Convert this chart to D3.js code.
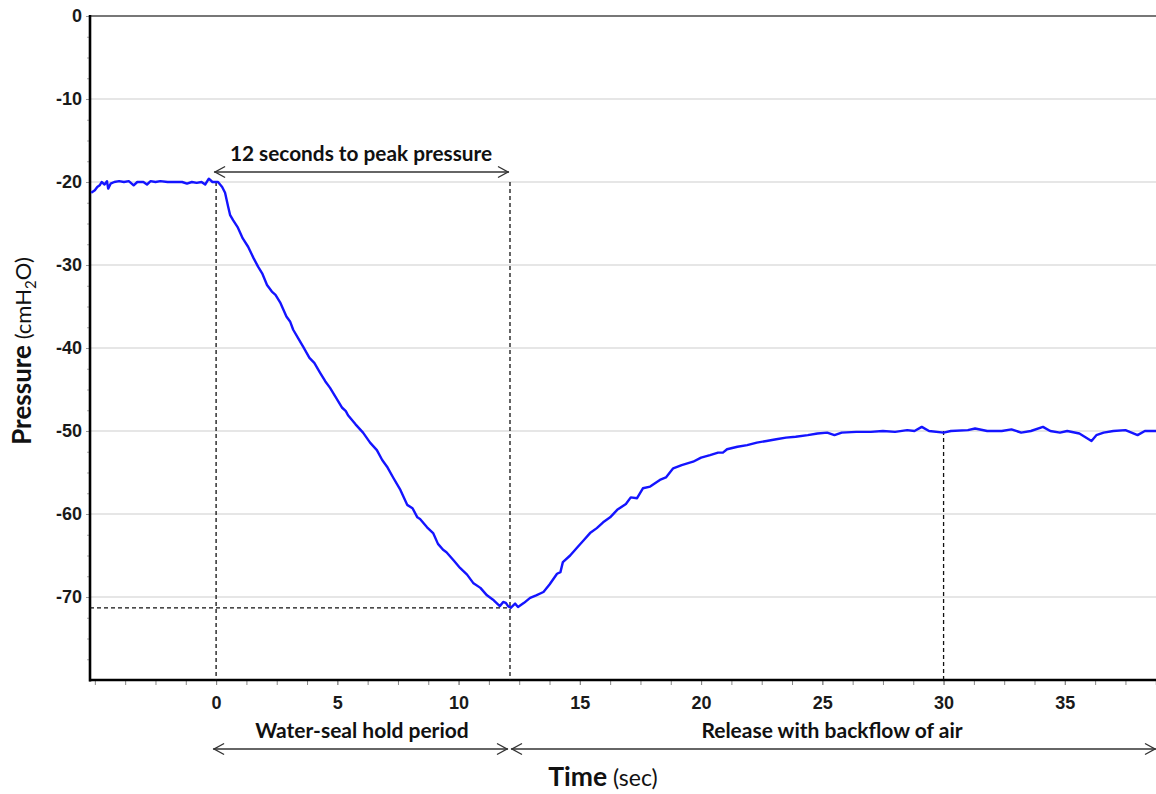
<!DOCTYPE html>
<html><head><meta charset="utf-8">
<script src="https://cdn.jsdelivr.net/npm/d3@7"></script>
<style>body{margin:0;background:#fff} svg{display:block}</style>
</head><body>
<svg id="c" width="1156" height="794"></svg>
<script>
// ---- data ----
const timeSec = [-5.15,-5.0,-4.9,-4.8,-4.72,-4.6,-4.5,-4.45,-4.35,-4.2,-4.0,-3.8,-3.6,-3.4,-3.25,-3.0,-2.85,-2.7,-2.5,-2.3,-2.0,-1.7,-1.4,-1.2,-1.0,-0.8,-0.6,-0.45,-0.3,-0.15,0.08,0.25,0.37,0.5,0.58,0.7,0.9,1.1,1.32,1.55,1.73,1.9,2.1,2.3,2.45,2.64,2.9,3.05,3.18,3.4,3.6,3.85,4.05,4.29,4.5,4.7,4.95,5.2,5.35,5.44,5.75,6.06,6.35,6.63,6.85,7.05,7.3,7.6,7.88,8.1,8.3,8.41,8.7,8.95,9.15,9.36,9.5,9.8,10.06,10.35,10.6,10.9,11.17,11.45,11.7,11.84,11.95,12.04,12.15,12.33,12.45,12.7,12.95,13.2,13.5,13.75,14.06,14.2,14.3,14.6,14.9,15.15,15.42,15.7,15.96,16.25,16.54,16.9,17.1,17.36,17.6,17.9,18.3,18.55,18.85,19.2,19.67,20.0,20.37,20.7,20.9,21.07,21.5,21.9,22.3,22.7,23.1,23.5,23.9,24.4,24.8,25.2,25.5,25.8,26.4,27.0,27.5,28.0,28.5,28.8,29.1,29.4,30.0,30.3,31.0,31.3,31.8,32.4,32.8,33.2,33.6,34.1,34.4,34.8,35.1,35.6,36.1,36.3,36.6,37.0,37.5,38.0,38.3,38.8];
const pressure = [-21.3,-21.0,-20.6,-20.4,-20.0,-20.3,-19.9,-20.8,-20.2,-20.0,-19.9,-20.0,-19.9,-20.4,-20.0,-20.0,-20.3,-19.9,-20.0,-19.9,-20.0,-20.0,-20.0,-20.2,-20.0,-20.1,-20.0,-20.3,-19.6,-20.0,-20.0,-20.6,-21.3,-23.0,-24.0,-24.6,-25.5,-26.8,-27.8,-29.2,-30.2,-31.0,-32.4,-33.2,-33.6,-34.5,-36.2,-36.8,-37.8,-38.9,-39.9,-41.2,-41.8,-43.0,-44.0,-44.8,-46.0,-47.2,-47.6,-48.1,-49.2,-50.2,-51.4,-52.3,-53.5,-54.3,-55.6,-57.1,-58.9,-59.3,-60.4,-60.6,-61.6,-62.3,-63.6,-64.3,-64.6,-65.6,-66.5,-67.3,-68.3,-68.9,-69.8,-70.4,-71.1,-70.6,-70.7,-71.1,-71.3,-70.8,-71.2,-70.7,-70.1,-69.8,-69.4,-68.5,-67.2,-67.0,-65.8,-65.0,-64.0,-63.2,-62.3,-61.7,-61.0,-60.4,-59.5,-58.8,-58.0,-58.1,-56.9,-56.7,-55.9,-55.6,-54.5,-54.1,-53.7,-53.2,-52.9,-52.6,-52.6,-52.2,-51.9,-51.7,-51.4,-51.2,-51.0,-50.8,-50.7,-50.5,-50.3,-50.2,-50.5,-50.2,-50.1,-50.1,-50.0,-50.1,-49.9,-50.0,-49.5,-50.0,-50.2,-50.0,-49.9,-49.7,-50.0,-50.0,-49.8,-50.2,-50.0,-49.5,-50.0,-50.2,-50.0,-50.3,-51.2,-50.5,-50.2,-50.0,-49.9,-50.5,-50.0,-50.0];
const xTickValues = [0,5,10,15,20,25,30,35];
const xMinorTicks = [-5,-3.75,-2.5,-1.25,0,1.25,2.5,3.75,5,6.25,7.5,8.75,10,11.25,12.5,13.75,15,16.25,17.5,18.75,20,21.25,22.5,23.75,25,26.25,27.5,28.75,30,31.25,32.5,33.75,35,36.25,37.5,38.75];
const yTickValues = [0,-10,-20,-30,-40,-50,-60,-70];
const yMinorTicks = [-2.5,-5,-7.5,-12.5,-15,-17.5,-22.5,-25,-27.5,-32.5,-35,-37.5,-42.5,-45,-47.5,-52.5,-55,-57.5,-62.5,-65,-67.5,-72.5,-75,-77.5];
const onsetTime = 0, peakTime = 12.12, peakPressure = -71.3;
const plateauTime = 30, plateauPressure = -50, holdPressure = -20;
const labels = {
  top: "12 seconds to peak pressure",
  hold: "Water-seal hold period",
  release: "Release with backflow of air"
};

// ---- layout ----
const svg = d3.select("#c");
const pL = 90, pT = 16, pB = 680, pR = 1156;
const x = d3.scaleLinear().domain([-5.2, 38.76]).range([pL, pR]);
const y = d3.scaleLinear().domain([-80, 0]).range([pB, pT]);

const sans = "'Liberation Sans', Arial, sans-serif";
const cal = "Lato, 'Open Sans', sans-serif";
const fmt = d => String(d);

// gridlines
svg.append("g").selectAll("line").data(yTickValues.filter(v => v !== 0)).join("line")
  .attr("x1", pL).attr("x2", pR).attr("y1", d => y(d)).attr("y2", d => y(d))
  .attr("stroke", "#dedede").attr("stroke-width", 1.3);

// top border
svg.append("line").attr("x1", pL).attr("x2", pR).attr("y1", y(0)).attr("y2", y(0))
  .attr("stroke", "#777").attr("stroke-width", 2);

// minor y ticks
svg.append("g").attr("transform", `translate(${pL},0)`)
  .call(d3.axisLeft(y).tickValues(yMinorTicks).tickSize(3).tickFormat(""))
  .call(g => g.select(".domain").remove())
  .call(g => g.selectAll("line").attr("stroke", "#aaa"));
// major y ticks + labels
svg.append("g").attr("transform", `translate(${pL},0)`)
  .call(d3.axisLeft(y).tickValues(yTickValues).tickSize(4).tickPadding(4).tickFormat(fmt))
  .call(g => g.select(".domain").remove())
  .call(g => g.selectAll("line").attr("stroke", "#999"))
  .call(g => g.selectAll("text").attr("font-family", sans).attr("font-weight", "bold")
    .attr("font-size", 18).attr("fill", "#1a1a1a"));

// minor x ticks
svg.append("g").attr("transform", `translate(0,${pB})`)
  .call(d3.axisBottom(x).tickValues(xMinorTicks).tickSize(5).tickFormat(""))
  .call(g => g.select(".domain").remove())
  .call(g => g.selectAll("line").attr("stroke", "#888"));
// major x labels
svg.append("g").attr("transform", `translate(0,${pB})`)
  .call(d3.axisBottom(x).tickValues(xTickValues).tickSize(5).tickPadding(11).tickFormat(fmt))
  .call(g => g.select(".domain").remove())
  .call(g => g.selectAll("line").attr("stroke", "#888"))
  .call(g => g.selectAll("text").attr("font-family", sans).attr("font-weight", "bold")
    .attr("font-size", 18).attr("fill", "#1a1a1a"));

// axis lines
svg.append("line").attr("x1", pL).attr("x2", pL).attr("y1", pT - 1).attr("y2", pB + 1.5)
  .attr("stroke", "#000").attr("stroke-width", 2.6);
svg.append("line").attr("x1", pL - 1).attr("x2", pR).attr("y1", pB).attr("y2", pB)
  .attr("stroke", "#000").attr("stroke-width", 2.6);

// dashed reference lines
const dash = svg.append("g").attr("stroke", "#111").attr("stroke-width", 1.3).attr("stroke-dasharray", "4,3");
dash.append("line").attr("x1", x(onsetTime)).attr("x2", x(onsetTime)).attr("y1", y(holdPressure)).attr("y2", pB);
dash.append("line").attr("x1", x(peakTime)).attr("x2", x(peakTime)).attr("y1", y(holdPressure)).attr("y2", pB);
dash.append("line").attr("x1", x(plateauTime)).attr("x2", x(plateauTime)).attr("y1", y(plateauPressure)).attr("y2", pB);
dash.append("line").attr("x1", pL).attr("x2", x(peakTime)).attr("y1", y(peakPressure)).attr("y2", y(peakPressure));

// curve
svg.append("clipPath").attr("id", "clip").append("rect")
  .attr("x", pL).attr("y", pT).attr("width", pR - pL).attr("height", pB - pT);
const pts = timeSec.map((t, i) => [t, pressure[i]]);
svg.append("path").datum(pts).attr("clip-path", "url(#clip)")
  .attr("fill", "none").attr("stroke", "#1414ff").attr("stroke-width", 2.4)
  .attr("stroke-linejoin", "round")
  .attr("d", d3.line().x(d => x(d[0])).y(d => y(d[1])));

// arrows
function arrow(x1, x2, yy, headL, headR) {
  const g = svg.append("g").attr("stroke", "#333").attr("stroke-width", 1.4).attr("fill", "none");
  g.append("line").attr("x1", x1).attr("x2", x2).attr("y1", yy).attr("y2", yy);
  if (headL) g.append("path").attr("d", `M${x1 + 11},${yy - 5.5}L${x1 + 1},${yy}L${x1 + 11},${yy + 5.5}`);
  if (headR) g.append("path").attr("d", `M${x2 - 11},${yy - 5.5}L${x2 - 1},${yy}L${x2 - 11},${yy + 5.5}`);
}
arrow(x(onsetTime) - 2, x(peakTime) - 1, y(holdPressure) - 10, true, true);
arrow(x(onsetTime) - 3, x(peakTime) - 2, 749, true, true);
arrow(x(peakTime) + 1, 1156, 749, true, true);

// annotation texts
function label(txt, cx, by, size) {
  return svg.append("text").attr("x", cx).attr("y", by).attr("text-anchor", "middle")
    .attr("font-family", cal).attr("font-weight", "bold").attr("font-size", size).attr("fill", "#111").text(txt);
}
label(labels.top, 361, 161, 20.8);
label(labels.hold, 362, 738, 21);
label(labels.release, 832, 738, 21);

// axis titles
const xt = svg.append("text").attr("x", 603).attr("y", 786).attr("text-anchor", "middle")
  .attr("font-family", cal).attr("fill", "#111");
xt.append("tspan").attr("font-weight", "bold").attr("font-size", 26.5).text("Time");
xt.append("tspan").attr("font-size", 23).text(" (sec)");

const yt = svg.append("text").attr("transform", "translate(31,351) rotate(-90)").attr("text-anchor", "middle")
  .attr("font-family", cal).attr("fill", "#111");
yt.append("tspan").attr("font-weight", "bold").attr("font-size", 26).text("Pressure");
yt.append("tspan").attr("font-size", 22).text(" (cmH");
yt.append("tspan").attr("font-size", 15).attr("dy", 5).text("2");
yt.append("tspan").attr("font-size", 22).attr("dy", -5).text("O)");
</script>
</body></html>
